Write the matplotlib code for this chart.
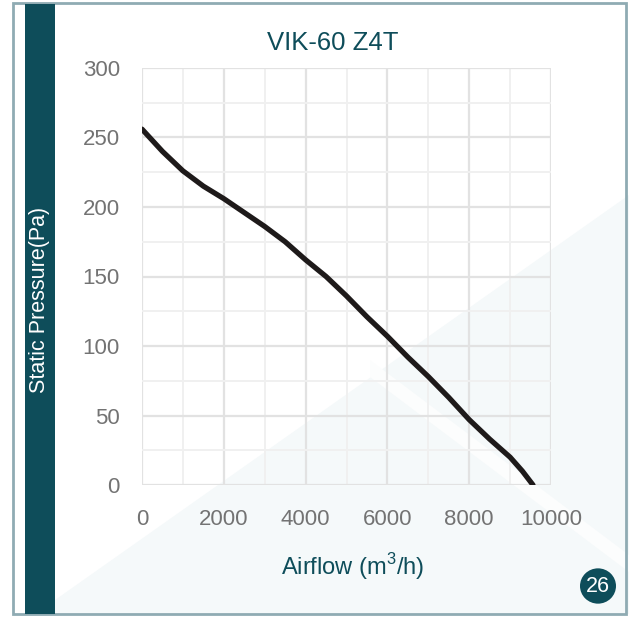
import matplotlib
matplotlib.use("Agg")
import matplotlib.pyplot as plt
from matplotlib.patches import Rectangle, Polygon, Circle
from matplotlib.ticker import MultipleLocator

# Data
airflow = [0, 500, 1000, 1500, 2000, 2500, 3000, 3500, 4000, 4500, 5000,
           5500, 6000, 6500, 7000, 7500, 8000, 8500, 9000, 9300, 9560]
pressure = [256, 240, 226, 215, 206, 196, 186, 175, 162, 150, 136,
            121, 107, 92, 78, 63, 47, 33, 20, 10, 0]
x_ticks = [0, 2000, 4000, 6000, 8000, 10000]
y_ticks = [0, 50, 100, 150, 200, 250, 300]
title = "VIK-60 Z4T"
x_label = "Airflow (m$^3$/h)"
y_label = "Static Pressure(Pa)"
page_no = "26"

TEAL = "#0e4d5a"
W, H = 629, 617
plt.rcParams['font.family'] = ['Liberation Sans', 'DejaVu Sans']
plt.rcParams['mathtext.fontset'] = 'custom'
plt.rcParams['mathtext.rm'] = 'Liberation Sans'

fig = plt.figure(figsize=(W / 100, H / 100), dpi=100)
fig.patch.set_facecolor("white")

def fx(px):
    return px / W

def fy(py):
    return 1 - py / H

# faint background shapes
fig.patches.append(Polygon([(fx(55), fy(600)), (fx(629), fy(195)), (fx(629), fy(614)), (fx(55), fy(614))],
                           closed=True, transform=fig.transFigure, facecolor="#f5f9fa", edgecolor="none", zorder=-2))
fig.patches.append(Polygon([(fx(370), fy(360)), (fx(629), fy(555)), (fx(629), fy(572)), (fx(370), fy(377))],
                           closed=True, transform=fig.transFigure, facecolor="#fcfdfd", edgecolor="none", zorder=-1))
# outer border
fig.patches.append(Rectangle((fx(13), fy(614)), fx(613), 611 / H, transform=fig.transFigure,
                             facecolor="none", edgecolor="#8fabb3", linewidth=2.0, zorder=1))
# teal band
fig.patches.append(Rectangle((fx(25), fy(614)), fx(30), 610 / H, transform=fig.transFigure,
                             facecolor=TEAL, edgecolor="none", zorder=2))
fig.text(fx(40), fy(300), y_label, rotation=90, color="white", fontsize=15.5,
         ha="center", va="center", zorder=3)

ax = fig.add_axes([fx(142), fy(485), (551 - 142) / W, (485 - 68) / H])
ax.set_zorder(0)
ax.set_facecolor("none")
ax.plot(airflow, pressure, color="#1e1a1a", linewidth=3.8, solid_capstyle="round", zorder=5)
ax.set_xlim(0, 10000)
ax.set_ylim(0, 300)
ax.set_xticks(x_ticks)
ax.set_yticks(y_ticks)
ax.xaxis.set_minor_locator(MultipleLocator(1000))
ax.yaxis.set_minor_locator(MultipleLocator(25))
ax.grid(which="major", color="#e2e2e2", linewidth=1.6)
ax.grid(which="minor", color="#f0f0f0", linewidth=1.4)
ax.set_axisbelow(True)
for s in ax.spines.values():
    s.set_visible(False)
ax.tick_params(which="both", length=0)
ax.tick_params(axis="x", pad=17, labelsize=16, labelcolor="#737373")
ax.tick_params(axis="y", pad=16, labelsize=16, labelcolor="#737373")

fig.text(fx(333), fy(43), title, color=TEAL, fontsize=18.5, ha="center", va="center")
fig.text(fx(353), fy(567), x_label, color=TEAL, fontsize=17, ha="center", va="center")

fig.patches.append(Circle((fx(598), fy(586)), 18 / W, transform=fig.transFigure,
                          facecolor=TEAL, edgecolor="none", zorder=3))
fig.text(fx(598), fy(586), page_no, color="white", fontsize=15.5, ha="center", va="center", zorder=4)

fig.savefig("out.png", dpi=100)
